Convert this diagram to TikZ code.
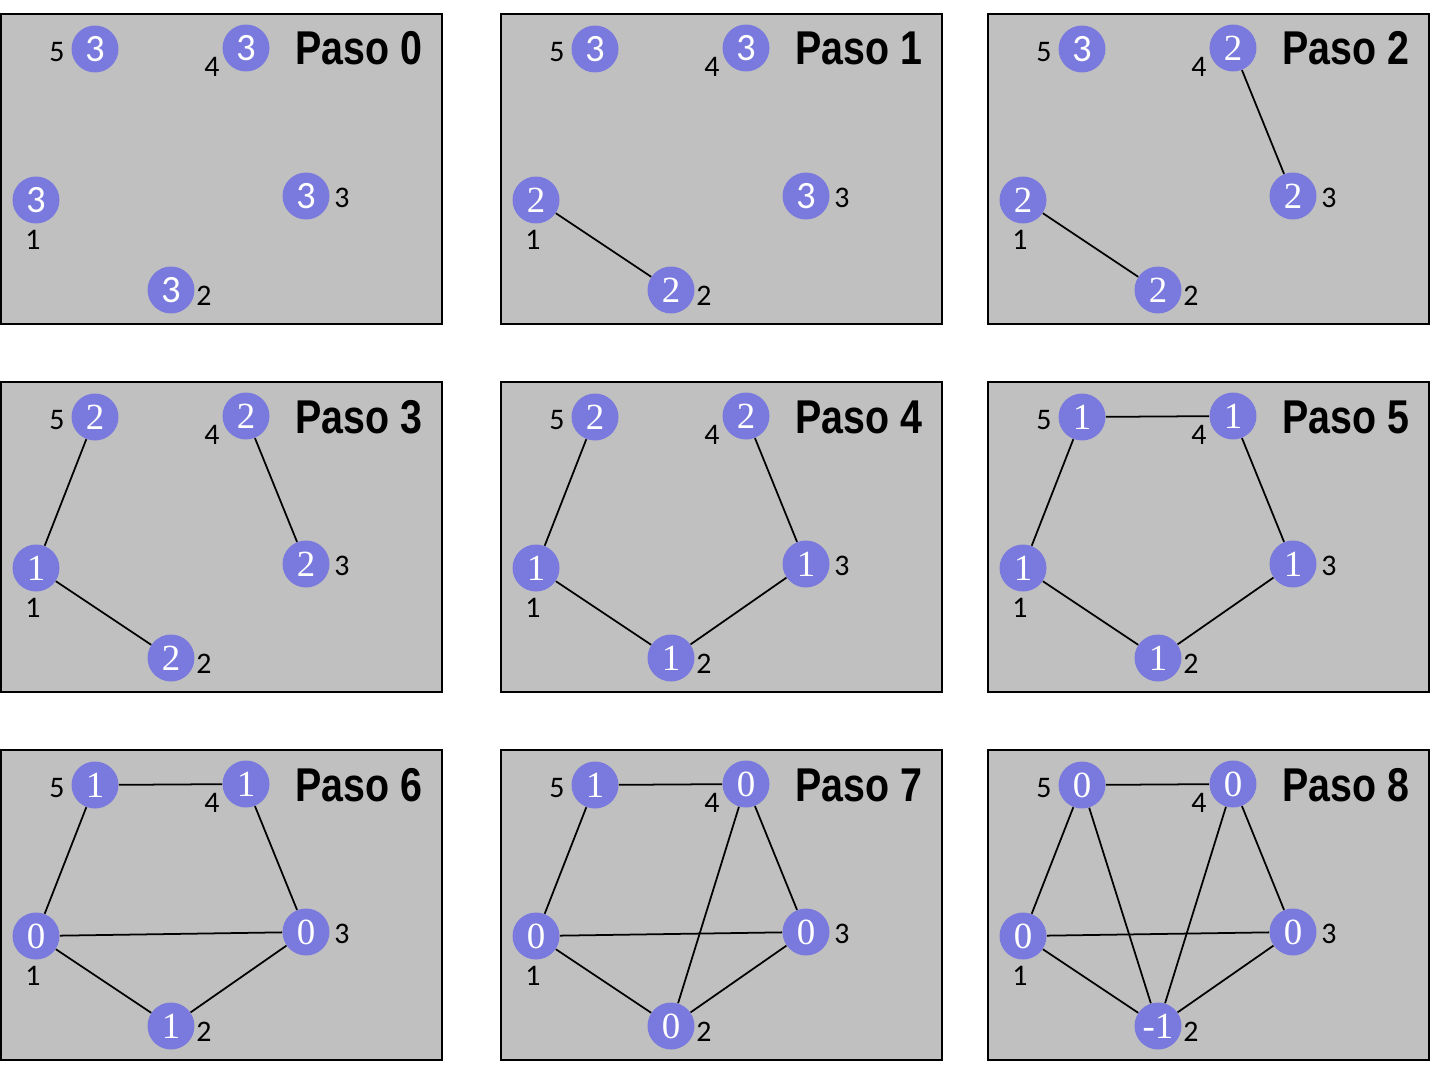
\documentclass[tikz,border=0pt]{standalone}
\usepackage{fontspec}
\setmainfont{Liberation Serif}
\newfontfamily\labelfont{Carlito}
\newfontfamily\titlefont[FakeStretch=0.83]{Liberation Sans}
\definecolor{nodeblue}{RGB}{122,122,222}
\definecolor{panelgray}{RGB}{192,192,192}
\tikzset{
  panel/.style={fill=panelgray, draw=black, line width=1.2pt},
  vertex/.style={circle, fill=nodeblue, minimum size=0.94cm, inner sep=0pt,
    text=white, font=\fontsize{21}{21}\selectfont},
  vertex label/.style={inner sep=0pt, font=\labelfont\fontsize{17}{17}\selectfont},
  paso title/.style={anchor=base east, inner sep=0pt,
    font=\titlefont\bfseries\fontsize{27}{27}\selectfont},
  edge/.style={black, line width=1pt},
}
% value inside a vertex: the 3s are set in a sans face
\newcommand{\val}[1]{\ifnum#1=3\relax{\labelfont\fontsize{22}{22}\selectfont #1}\else #1\fi}
% #1 shift, #2 step, #3..#7 values of vertices 1..5, #8 edges
\newcommand{\paso}[8]{
    \begin{scope}[shift={#1}, name prefix=p#2-]
    \draw[panel] (0,0) rectangle (441,310);
    \node[paso title] (title) at (422,51) {Paso #2};
    \node[vertex] (1) at (35,186) {\val{#3}};
    \node[vertex] (2) at (170,276) {\val{#4}};
    \node[vertex] (3) at (305,182) {\val{#5}};
    \node[vertex] (4) at (245,34) {\val{#6}};
    \node[vertex] (5) at (94,35) {\val{#7}};
    \node[vertex label] (l1) at (32,226) {1};
    \node[vertex label] (l2) at (203,282) {2};
    \node[vertex label] (l3) at (341,184) {3};
    \node[vertex label] (l4) at (211,53) {4};
    \node[vertex label] (l5) at (56,38) {5};
    \def\edgelist{#8}
    \ifx\edgelist\empty\else
        \foreach \a/\b in {#8}
            \draw[edge] (\a) -- (\b);
    \fi
    \end{scope}
}

\begin{document}
\begin{tikzpicture}[x=0.02cm, y=-0.02cm]
    \useasboundingbox (0,0) rectangle (1442,1068);
    % first row
    \paso{(1,14)}{0}{3}{3}{3}{3}{3}{}
    \paso{(501,14)}{1}{2}{2}{3}{3}{3}{1/2}
    \paso{(988,14)}{2}{2}{2}{2}{2}{3}{1/2,4/3}
    % second row
    \paso{(1,382)}{3}{1}{2}{2}{2}{2}{5/1,1/2,4/3}
    \paso{(501,382)}{4}{1}{1}{1}{2}{2}{5/1,1/2,2/3,3/4}
    \paso{(988,382)}{5}{1}{1}{1}{1}{1}{5/1,1/2,2/3,3/4,5/4}
    % third row
    \paso{(1,750)}{6}{0}{1}{0}{1}{1}{5/1,1/2,2/3,3/4,5/4,1/3}
    \paso{(501,750)}{7}{0}{0}{0}{0}{1}{5/1,1/2,2/3,3/4,5/4,1/3,4/2}
    \paso{(988,750)}{8}{0}{-1}{0}{0}{0}{5/1,1/2,2/3,3/4,5/4,1/3,4/2,5/2}
\end{tikzpicture}
\end{document}
